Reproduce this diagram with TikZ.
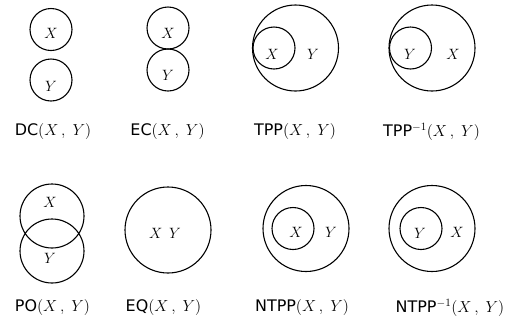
\RequirePackage{fix-cm}
\documentclass[tikz,border=0pt]{standalone}
\usepackage{fontspec}
\setsansfont{DejaVu Sans}
\usetikzlibrary{positioning}

\newcommand{\args}{$(X\,,\;Y)$}

\begin{document}
\begin{tikzpicture}[x=1bp,y=-1bp,
    region/.style={draw,circle,line width=1.1pt,inner sep=0pt},
    small/.style={region,minimum size=42bp},
    mid/.style={region,minimum size=64bp},
    big/.style={region,minimum size=86bp},
    var/.style={font=\fontsize{15}{18}\selectfont},
    rel/.style={font=\fontsize{16}{19}\selectfont}]
  \useasboundingbox (0,0) rectangle (519,324);

  % DC
  \node[small] (dcX) at (51,29.5) {};
  \node[small] (dcY) at (51,80) {};
  \node[var] (dcXl) at (51,33) {$X$};
  \node[var] (dcYl) at (51,86) {$Y$};
  \node[rel] (dc) at (53,131.5) {\textsf{DC}\args};

  % EC
  \node[small] (ecX) at (168,28) {};
  \node[small] (ecY) at (168,70) {};
  \node[var] (ecXl) at (168,33) {$X$};
  \node[var] (ecYl) at (168,75) {$Y$};
  \node[rel] (ec) at (167.5,131.5) {\textsf{EC}\args};

  % TPP
  \node[big] (tppY) at (295.5,48) {};
  \node[small] (tppX) at (274,48) {};
  \node[var] (tppXl) at (272,54) {$X$};
  \node[var] (tppYl) at (313,54) {$Y$};
  \node[rel] (tpp) at (295,131.5) {\textsf{TPP}\args};

  % TPP inverse
  \node[big] (tpiX) at (432,48) {};
  \node[small] (tpiY) at (410.5,48) {};
  \node[var] (tpiYl) at (410,54) {$Y$};
  \node[var] (tpiXl) at (453,54) {$X$};
  \node[rel] (tpi) at (431.5,131.5) {\textsf{TPP}$^{-1}$\args};

  % PO
  \node[mid] (poX) at (52,216) {};
  \node[mid] (poY) at (52,251) {};
  \node[var] (poXl) at (50,202) {$X$};
  \node[var] (poYl) at (50,258) {$Y$};
  \node[rel] (po) at (52.5,308) {\textsf{PO}\args};

  % EQ
  \node[big] (eqXY) at (168,230) {};
  \node[var] (eqXYl) at (165,233) {$X\;\,Y$};
  \node[rel] (eq) at (163.5,308) {\textsf{EQ}\args};

  % NTPP
  \node[big] (ntY) at (306,228.5) {};
  \node[small] (ntX) at (293,228.5) {};
  \node[var] (ntXl) at (296,232) {$X$};
  \node[var] (ntYl) at (331,232) {$Y$};
  \node[rel] (nt) at (302,308) {\textsf{NTPP}\args};

  % NTPP inverse
  \node[big] (niX) at (432,228.5) {};
  \node[small] (niY) at (421,228.5) {};
  \node[var] (niYl) at (420,233) {$Y$};
  \node[var] (niXl) at (457,232) {$X$};
  \node[rel] (ni) at (450,308) {\textsf{NTPP}$^{-1}$\args};
\end{tikzpicture}
\end{document}
